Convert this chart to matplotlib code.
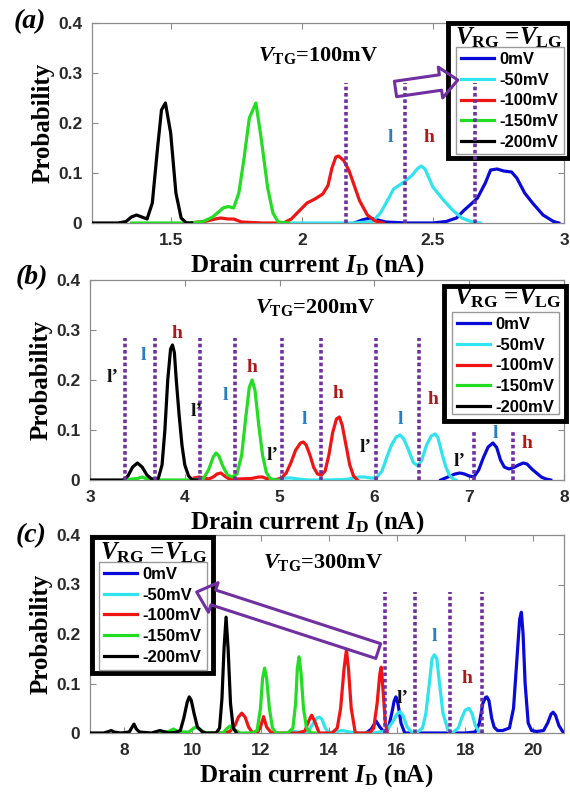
import matplotlib
matplotlib.use("Agg")
import matplotlib.pyplot as plt
from matplotlib.patches import Rectangle

plt.rcParams['mathtext.fontset'] = 'custom'
plt.rcParams['mathtext.rm'] = 'Liberation Serif:bold'
plt.rcParams['mathtext.it'] = 'Liberation Serif:bold:italic'
plt.rcParams['mathtext.bf'] = 'Liberation Serif:bold'

# ---------------- data ----------------
gate_labels = ['0mV', '-50mV', '-100mV', '-150mV', '-200mV']
line_colors = ['#0a0ad8', '#30e4ee', '#f01414', '#22dd22', '#000000']

# (a) V_TG = 100 mV
a_blue_x = [2.20, 2.23, 2.26, 2.29, 2.32, 2.40, 2.50, 2.55, 2.59, 2.62, 2.65, 2.67, 2.70, 2.72, 2.745,
            2.77, 2.80, 2.82, 2.85, 2.88, 2.92, 2.96, 2.98]
a_blue_y = [0, 0.006, 0.010, 0.006, 0.002, 0, 0, 0.003, 0.010, 0.026, 0.040, 0.050, 0.080, 0.106, 0.108,
            0.104, 0.102, 0.090, 0.060, 0.040, 0.016, 0.003, 0]
a_cyan_x = [1.95, 2.10, 2.20, 2.27, 2.30, 2.33, 2.35, 2.39, 2.42, 2.44, 2.455, 2.47, 2.50, 2.54, 2.575,
            2.61, 2.65, 2.68]
a_cyan_y = [0, 0, 0, 0.003, 0.020, 0.048, 0.068, 0.082, 0.095, 0.108, 0.114, 0.108, 0.072, 0.046, 0.026,
            0.010, 0.002, 0]
a_red_x = [1.57, 1.63, 1.67, 1.69, 1.72, 1.74, 1.77, 1.85, 1.93, 1.96, 1.99, 2.02, 2.05, 2.08, 2.10, 2.115,
           2.13, 2.14, 2.16, 2.18, 2.20, 2.22, 2.25, 2.28, 2.31]
a_red_y = [0, 0.003, 0.008, 0.010, 0.008, 0.008, 0.002, 0, 0, 0.008, 0.024, 0.040, 0.048, 0.058, 0.075,
           0.110, 0.132, 0.134, 0.125, 0.105, 0.075, 0.045, 0.016, 0.004, 0]
a_green_x = [1.35, 1.55, 1.62, 1.66, 1.70, 1.72, 1.74, 1.76, 1.78, 1.80, 1.825, 1.845, 1.87, 1.89, 1.91, 1.95]
a_green_y = [0, 0, 0.002, 0.012, 0.030, 0.033, 0.030, 0.060, 0.130, 0.210, 0.240, 0.170, 0.070, 0.020,
             0.002, 0]
a_black_x = [1.20, 1.30, 1.33, 1.35, 1.37, 1.39, 1.41, 1.43, 1.45, 1.465, 1.48, 1.50, 1.52, 1.54, 1.56, 1.58]
a_black_y = [0, 0, 0.003, 0.012, 0.016, 0.012, 0.008, 0.040, 0.150, 0.226, 0.240, 0.180, 0.060, 0.010, 0, 0]
a_marks = [2.17, 2.395, 2.66]
a_mark_tops = [0.28, 0.28, 0.28]

# (b) V_TG = 200 mV
b_blue_x = [6.70, 6.75, 6.80, 6.85, 6.90, 6.95, 7.00, 7.05, 7.10, 7.15, 7.20, 7.25, 7.29, 7.33, 7.37, 7.42,
            7.47, 7.52, 7.57, 7.61, 7.66, 7.71, 7.76, 7.81, 7.86]
b_blue_y = [0, 0.004, 0.008, 0.012, 0.014, 0.012, 0.008, 0.006, 0.020, 0.045, 0.066, 0.074, 0.065, 0.040,
            0.026, 0.022, 0.025, 0.030, 0.034, 0.032, 0.022, 0.014, 0.006, 0.002, 0]
b_cyan_x = [5.00, 5.05, 5.12, 5.20, 5.30, 5.50, 5.70, 5.78, 5.84, 5.90, 5.96, 6.02, 6.08, 6.13, 6.18, 6.23,
            6.27, 6.31, 6.36, 6.41, 6.46, 6.50, 6.55, 6.60, 6.64, 6.67, 6.71, 6.75, 6.79, 6.83, 6.86]
b_cyan_y = [0.002, 0.004, 0.004, 0.002, 0, 0, 0.001, 0.004, 0.006, 0.006, 0.004, 0.004, 0.018, 0.045, 0.070,
            0.086, 0.090, 0.082, 0.060, 0.035, 0.028, 0.040, 0.070, 0.088, 0.092, 0.085, 0.055, 0.028,
            0.010, 0.002, 0]
b_red_x = [4.10, 4.15, 4.20, 4.25, 4.30, 4.34, 4.38, 4.42, 4.46, 4.55, 4.70, 4.78, 4.82, 4.86, 4.95, 5.02,
           5.07, 5.12, 5.17, 5.22, 5.25, 5.28, 5.32, 5.36, 5.40, 5.44, 5.48, 5.52, 5.56, 5.60, 5.63, 5.66,
           5.70, 5.74, 5.78, 5.82]
b_red_y = [0.004, 0.006, 0.004, 0.002, 0.006, 0.012, 0.014, 0.008, 0.003, 0.002, 0.003, 0.006, 0.006, 0.003,
           0, 0.004, 0.014, 0.035, 0.060, 0.074, 0.076, 0.070, 0.050, 0.025, 0.012, 0.010, 0.018, 0.050,
           0.095, 0.122, 0.126, 0.110, 0.070, 0.030, 0.008, 0]
b_green_x = [3.35, 3.50, 3.55, 3.60, 3.70, 4.10, 4.20, 4.25, 4.30, 4.33, 4.36, 4.40, 4.45, 4.50, 4.55, 4.60,
             4.64, 4.68, 4.71, 4.74, 4.78, 4.82, 4.86, 4.90, 4.95, 5.02]
b_green_y = [0, 0.003, 0.006, 0.002, 0, 0, 0.004, 0.020, 0.046, 0.054, 0.048, 0.028, 0.010, 0.006, 0.012,
             0.050, 0.120, 0.185, 0.200, 0.180, 0.110, 0.050, 0.015, 0.003, 0, 0]
b_black_x = [3.00, 3.35, 3.40, 3.45, 3.50, 3.55, 3.60, 3.65, 3.72, 3.76, 3.79, 3.82, 3.85, 3.87, 3.89, 3.91,
             3.94, 3.97, 4.00, 4.04, 4.08, 4.14]
b_black_y = [0, 0, 0.008, 0.026, 0.034, 0.026, 0.010, 0.002, 0.003, 0.030, 0.100, 0.200, 0.262, 0.270,
             0.255, 0.200, 0.130, 0.070, 0.030, 0.008, 0, 0]
b_marks = [3.37, 3.69, 4.16, 4.53, 5.03, 5.44, 6.02, 6.47, 7.05, 7.46]
b_mark_tops = [0.285, 0.285, 0.285, 0.285, 0.285, 0.285, 0.285, 0.285, 0.10, 0.10]

# (c) V_TG = 300 mV
c_blue_x = [15.1, 15.25, 15.39, 15.5, 15.65, 15.75, 15.85, 15.92, 15.97, 16.03, 16.12, 16.23, 16.5, 17.0,
            17.5, 18.0, 18.3, 18.42, 18.52, 18.6, 18.64, 18.7, 18.78, 18.85, 18.95, 19.1, 19.3, 19.42,
            19.52, 19.6, 19.65, 19.7, 19.76, 19.85, 19.95, 20.1, 20.3, 20.42, 20.52, 20.58, 20.65, 20.75,
            20.85, 20.9]
c_blue_y = [0, 0.008, 0.024, 0.012, 0, 0.010, 0.040, 0.065, 0.073, 0.060, 0.020, 0, 0, 0, 0, 0, 0.002,
            0.020, 0.060, 0.072, 0.073, 0.065, 0.030, 0.012, 0.005, 0.005, 0.010, 0.050, 0.150, 0.230,
            0.244, 0.200, 0.100, 0.020, 0.005, 0.003, 0.005, 0.020, 0.038, 0.042, 0.036, 0.015, 0.004, 0]
c_cyan_x = [12.8, 13.0, 13.2, 13.4, 13.55, 13.65, 13.72, 13.8, 13.9, 14.0, 14.2, 14.4, 14.6, 14.9, 15.3,
            15.6, 15.75, 15.9, 16.0, 16.09, 16.18, 16.3, 16.46, 16.6, 16.75, 16.85, 16.95, 17.03, 17.1,
            17.17, 17.25, 17.35, 17.5, 17.62, 17.8, 17.9, 18.0, 18.11, 18.2, 18.3, 18.43, 18.5]
c_cyan_y = [0, 0.003, 0.001, 0.003, 0.020, 0.030, 0.032, 0.028, 0.010, 0, 0.003, 0.005, 0.002, 0, 0,
            0.003, 0.010, 0.025, 0.038, 0.043, 0.035, 0.012, 0, 0.002, 0.010, 0.040, 0.100, 0.150, 0.158,
            0.150, 0.100, 0.040, 0.005, 0, 0.010, 0.030, 0.046, 0.050, 0.040, 0.015, 0, 0]
c_red_x = [10.6, 10.9, 11.1, 11.25, 11.35, 11.45, 11.55, 11.65, 11.77, 11.9, 12.0, 12.09, 12.18, 12.3, 12.4,
           13.1, 13.3, 13.42, 13.5, 13.58, 13.72, 14.1, 14.25, 14.35, 14.45, 14.52, 14.58, 14.66, 14.78,
           15.2, 15.32, 15.42, 15.5, 15.54, 15.6, 15.66, 15.72]
c_red_y = [0, 0, 0.003, 0.015, 0.032, 0.040, 0.032, 0.012, 0, 0, 0.012, 0.033, 0.012, 0.002, 0, 0, 0.004,
           0.025, 0.036, 0.025, 0, 0, 0.010, 0.050, 0.130, 0.168, 0.130, 0.050, 0, 0, 0.010, 0.060, 0.120,
           0.133, 0.080, 0.020, 0]
c_green_x = [9.0, 9.3, 9.45, 9.6, 9.9, 10.05, 10.12, 10.2, 10.4, 10.9, 11.0, 11.1, 11.2, 11.4, 11.75, 11.9,
             12.0, 12.06, 12.12, 12.18, 12.26, 12.35, 12.46, 12.8, 12.95, 13.03, 13.08, 13.13, 13.19,
             13.26, 13.35, 13.48, 13.6]
c_green_y = [0, 0.003, 0.008, 0.002, 0.002, 0.010, 0.012, 0.008, 0, 0, 0.008, 0.014, 0.008, 0, 0, 0.005,
             0.050, 0.110, 0.131, 0.110, 0.050, 0.010, 0, 0, 0.010, 0.060, 0.130, 0.154, 0.120, 0.050,
             0.010, 0, 0]
c_black_x = [7.0, 7.4, 7.55, 7.62, 7.7, 7.9, 8.15, 8.22, 8.29, 8.36, 8.45, 8.8, 8.95, 9.05, 9.15, 9.3, 9.5,
             9.65, 9.75, 9.85, 9.91, 9.97, 10.05, 10.15, 10.3, 10.4, 10.7, 10.8, 10.87, 10.93, 10.99,
             11.05, 11.12, 11.2, 11.3]
c_black_y = [0, 0, 0.003, 0.005, 0.002, 0, 0.002, 0.010, 0.018, 0.008, 0.002, 0, 0.003, 0.005, 0.003, 0,
             0.001, 0.005, 0.030, 0.062, 0.073, 0.066, 0.040, 0.012, 0.002, 0, 0, 0.010, 0.070, 0.170,
             0.234, 0.170, 0.060, 0.010, 0]
c_marks = [15.65, 16.52, 17.57, 18.49]
c_mark_tops = [0.285, 0.285, 0.285, 0.285]

# peak tags: (x, y, text, colour key)
a_tags = [(2.336, 0.17, 'l', 'l'), (2.485, 0.17, 'h', 'h')]
b_tags = [(3.24, 0.204, 'l\u2019', 'p'), (3.56, 0.25, 'l', 'l'), (3.92, 0.294, 'h', 'h'),
          (4.12, 0.136, 'l\u2019', 'p'), (4.43, 0.17, 'l', 'l'), (4.71, 0.226, 'h', 'h'),
          (4.93, 0.05, 'l\u2019', 'p'), (5.26, 0.12, 'l', 'l'), (5.62, 0.174, 'h', 'h'),
          (5.91, 0.064, 'l\u2019', 'p'), (6.27, 0.12, 'l', 'l'), (6.62, 0.16, 'h', 'h'),
          (6.90, 0.036, 'l\u2019', 'p'), (7.28, 0.094, 'l', 'l'), (7.61, 0.074, 'h', 'h')]
c_tags = [(16.17, 0.07, 'l\u2019', 'p'), (17.1, 0.194, 'l', 'l'), (18.06, 0.11, 'h', 'h')]
tag_colors = {'l': '#2a7cc4', 'h': '#b01818', 'p': '#111111'}

# ---------------- figure ----------------
SERIF = 'Liberation Serif'
SANS = 'Liberation Sans'
PURPLE = '#7030A0'
SPINE = '#8c8c8c'

fig = plt.figure(figsize=(5.7, 7.92), dpi=100)


def draw_panel(rect, curves, xlim, xticks, xticklabels, marks, tops, tags, vtg,
               vtg_pos, leg_outer, leg_inner, leg_title_pos, arrow, xlabel_x):
    ax = fig.add_axes(rect)
    for (x, y), c, lab in zip(curves, line_colors, gate_labels):
        ax.plot(x, y, color=c, lw=2.3, label=lab, zorder=3)
    for xm, top in zip(marks, tops):
        ax.plot([xm, xm], [0, top], color=PURPLE, lw=2.6, ls=(0, (1.0, 0.75)), zorder=6)
    for x, y, t, k in tags:
        ax.text(x, y, t, color=tag_colors[k], fontsize=14, fontfamily=SERIF, fontweight='bold',
                ha='center', va='center', zorder=7)
    ax.set_xlim(*xlim)
    ax.set_ylim(0, 0.4)
    ax.set_xticks(xticks)
    ax.set_xticklabels(xticklabels)
    ax.set_yticks([0, 0.1, 0.2, 0.3, 0.4])
    ax.set_yticklabels(['0', '0.1', '0.2', '0.3', '0.4'])
    ax.tick_params(direction='in', top=True, right=True, length=4, width=0.8, color=SPINE,
                   labelsize=12.5, pad=7)
    for lab in ax.get_xticklabels() + ax.get_yticklabels():
        lab.set_fontfamily(SANS)
        lab.set_fontweight('bold')
        lab.set_color('#2a2a2a')
    for s in ax.spines.values():
        s.set_color(SPINE)
        s.set_linewidth(0.9)
    ax.set_ylabel('Probability', fontsize=18, fontfamily=SERIF, fontweight='bold')
    ax.yaxis.set_label_coords(-0.08, 0.5)
    ax.set_xlabel(r'Drain current $I_{\mathrm{D}}$ (nA)', fontsize=18, fontfamily=SERIF,
                  fontweight='bold')
    ax.xaxis.set_label_coords(xlabel_x, -0.145)
    ax.text(vtg_pos[0], vtg_pos[1], r'$V_{\mathrm{TG}}$=' + vtg, transform=ax.transAxes,
            fontsize=16, fontfamily=SERIF, fontweight='bold', ha='center', va='center', zorder=7)

    # legend box: thick outer frame with title, thin grey inner frame with entries
    ox0, oy0, ox1, oy1 = leg_outer
    ax.add_patch(Rectangle((ox0, oy0), ox1 - ox0, oy1 - oy0, transform=ax.transAxes,
                           facecolor='white', edgecolor='black', lw=3.5, clip_on=False, zorder=4))
    ix0, iy0, ix1, iy1 = leg_inner
    ax.add_patch(Rectangle((ix0, iy0), ix1 - ix0, iy1 - iy0, transform=ax.transAxes,
                           facecolor='white', edgecolor='#9a9a9a', lw=1.0, clip_on=False, zorder=4.1))
    ax.text(leg_title_pos[0], leg_title_pos[1], r'$V_{\mathrm{RG}}$ =$V_{\mathrm{LG}}$',
            transform=ax.transAxes, fontsize=18, fontfamily=SERIF, fontweight='bold',
            ha='center', va='center', zorder=4.3)
    leg = ax.legend(loc='upper left', bbox_to_anchor=(ix0, iy1), borderaxespad=0, frameon=False,
                    prop={'family': SANS, 'weight': 'bold', 'size': 12}, handlelength=2.0,
                    handletextpad=0.3, labelspacing=0.34, borderpad=0.3)
    leg.set_zorder(4.2)

    if arrow is not None:
        (tx, ty), (hx, hy) = arrow
        ax.annotate('', xy=(hx, hy), xytext=(tx, ty), xycoords='axes fraction',
                    textcoords='axes fraction', annotation_clip=False, zorder=8,
                    arrowprops=dict(arrowstyle='simple,head_width=1.6,head_length=0.9,tail_width=0.8',
                                    mutation_scale=14, facecolor='none', edgecolor=PURPLE, lw=2.2,
                                    shrinkA=0, shrinkB=0))
    return ax


ax_a = draw_panel([92 / 570, 569 / 792, 472 / 570, 200 / 792],
                  [(a_blue_x, a_blue_y), (a_cyan_x, a_cyan_y), (a_red_x, a_red_y),
                   (a_green_x, a_green_y), (a_black_x, a_black_y)],
                  (1.2, 3.0), [1.5, 2, 2.5, 3], ['1.5', '2', '2.5', '3'],
                  a_marks, a_mark_tops, a_tags, '100mV', (0.479, 0.835),
                  (0.754, 0.325, 1.011, 1.0), (0.771, 0.345, 1.0, 0.88), (0.883, 0.925),
                  ((0.643, 0.67), (0.775, 0.715)), 0.455)

ax_b = draw_panel([90 / 570, 312 / 792, 474 / 570, 200 / 792],
                  [(b_blue_x, b_blue_y), (b_cyan_x, b_cyan_y), (b_red_x, b_red_y),
                   (b_green_x, b_green_y), (b_black_x, b_black_y)],
                  (3, 8), [3, 4, 5, 6, 7, 8], ['3', '4', '5', '6', '7', '8'],
                  b_marks, b_mark_tops, b_tags, '200mV', (0.475, 0.865),
                  (0.747, 0.295, 1.004, 0.97), (0.764, 0.33, 0.99, 0.84), (0.882, 0.91),
                  None, 0.458)

ax_c = draw_panel([90 / 570, 59 / 792, 474 / 570, 198 / 792],
                  [(c_blue_x, c_blue_y), (c_cyan_x, c_cyan_y), (c_red_x, c_red_y),
                   (c_green_x, c_green_y), (c_black_x, c_black_y)],
                  (7, 20.9), [8, 10, 12, 14, 16, 18, 20], ['8', '10', '12', '14', '16', '18', '20'],
                  c_marks, c_mark_tops, c_tags, '300mV', (0.492, 0.86),
                  (0.004, 0.303, 0.26, 0.99), (0.019, 0.318, 0.247, 0.864), (0.135, 0.909),
                  ((0.608, 0.414), (0.225, 0.712)), 0.477)

for lab, (px, py) in zip(['(a)', '(b)', '(c)'], [(30, 22), (32, 278), (31, 536)]):
    fig.text(px / 570, 1 - py / 792, lab, fontsize=20, fontfamily=SERIF, fontweight='bold',
             fontstyle='italic', ha='center', va='center')

fig.savefig('out.png', dpi=100)
